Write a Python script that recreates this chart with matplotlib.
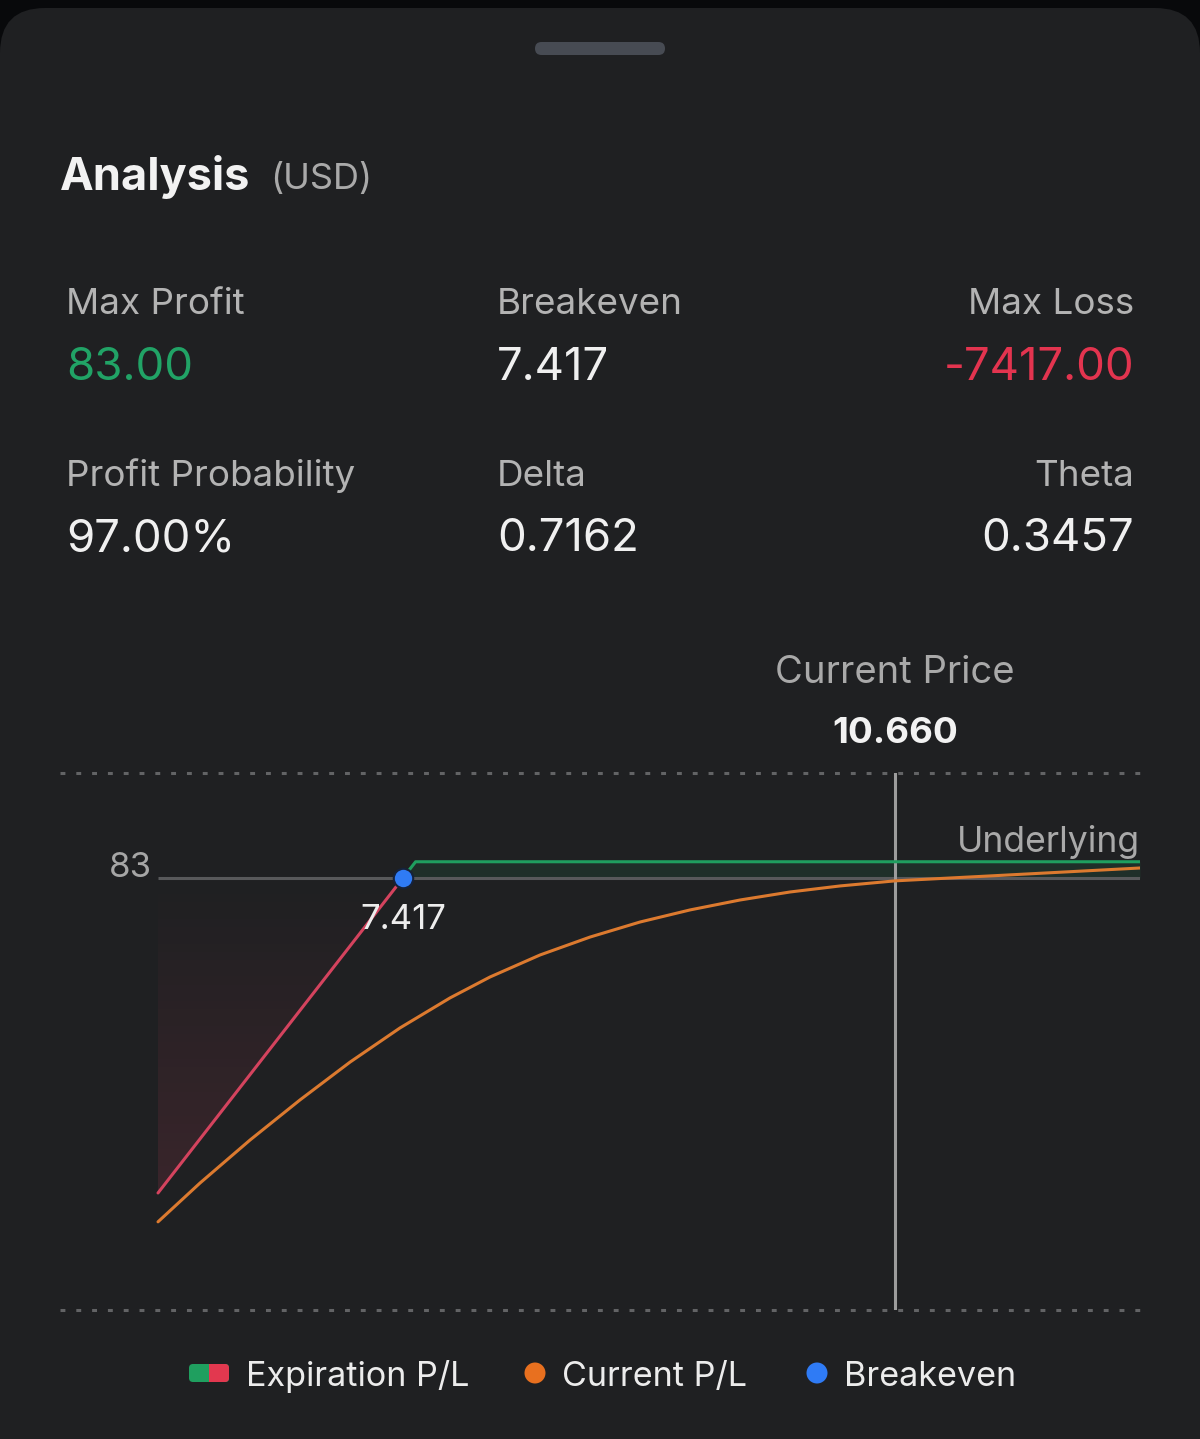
import numpy as np
import matplotlib
matplotlib.use("Agg")
import matplotlib.pyplot as plt
from matplotlib.patches import FancyBboxPatch, Circle, Polygon
from matplotlib.colors import LinearSegmentedColormap

plt.rcParams["font.family"] = ["Inter", "DejaVu Sans"]

# ---- summary figures ----
STATS = [
    # (label, value, value colour, column anchor, alignment)
    ("Max Profit", "83.00", "#21a366", 66, "left"),
    ("Breakeven", "7.417", "#f0f0f0", 497, "left"),
    ("Max Loss", "-7417.00", "#e3344f", 1134, "right"),
    ("Profit Probability", "97.00%", "#f0f0f0", 66, "left"),
    ("Delta", "0.7162", "#f0f0f0", 497, "left"),
    ("Theta", "0.3457", "#f0f0f0", 1134, "right"),
]

# ---- P/L data (underlying price vs P/L in USD) ----
STRIKE = 7.5
BREAKEVEN = 7.417
MAX_PROFIT = 83
CURRENT_PRICE = 10.660
PRICE_MIN, PRICE_MAX = 5.802, 12.275

exp_loss_price = [PRICE_MIN, BREAKEVEN]
exp_loss_pl = [-1615, 0]
exp_gain_price = [BREAKEVEN, STRIKE, PRICE_MAX]
exp_gain_pl = [0, MAX_PROFIT, MAX_PROFIT]

cur_price = [5.802, 6.079, 6.408, 6.738, 7.068, 7.397, 7.727, 7.990, 8.320,
             8.650, 8.979, 9.309, 9.639, 9.968, 10.298, 10.660, 11.352, 12.275]
cur_pl = [-1763, -1564, -1344, -1138, -944, -769, -615, -508, -395,
          -303, -226, -164, -113, -72, -41, -15, 13, 51]

BG = "#1f2022"
GREEN = "#1f9f5f"
RED = "#d4435e"
ORANGE = "#dc7a2f"
BLUE = "#2f7bf5"
GREY_TXT = "#b3b3b3"

fig = plt.figure(figsize=(12, 14.39), dpi=100, facecolor="#08090b")

# background / card layer in pixel coordinates
bg = fig.add_axes([0, 0, 1, 1], zorder=0)
bg.set_xlim(0, 1200)
bg.set_ylim(1439, 0)
bg.axis("off")
bg.add_patch(FancyBboxPatch((0, 8), 1200, 1500,
                            boxstyle="round,pad=0,rounding_size=45",
                            fc=BG, ec="none"))
bg.add_patch(FancyBboxPatch((535, 42), 130, 13,
                            boxstyle="round,pad=0,rounding_size=6.5",
                            fc="#474b53", ec="none"))

bg.text(60, 190, "Analysis", fontsize=32.5, fontweight="bold",
        color="#f2f2f2", va="baseline")
bg.text(270, 189, "(USD)", fontsize=26, color="#a9a9a9", va="baseline")

for i, (lab, val, col, x, ha) in enumerate(STATS):
    row = i // 3
    y_lab = 314 + row * 172
    y_val = 380 + row * 171
    bg.text(x, y_lab, lab, fontsize=26.5, color=GREY_TXT, ha=ha, va="baseline")
    bg.text(x, y_val, val, fontsize=32.8, color=col, ha=ha, va="baseline")

# legend
bg.add_patch(FancyBboxPatch((189, 1364), 40, 18,
                            boxstyle="round,pad=0,rounding_size=4",
                            fc=GREEN, ec="none"))
bg.add_patch(FancyBboxPatch((209, 1364), 20, 18,
                            boxstyle="round,pad=0,rounding_size=4",
                            fc="#e2384f", ec="none"))
bg.add_patch(plt.Rectangle((209, 1364), 8, 18, fc="#e2384f", ec="none"))
bg.add_patch(Circle((535, 1373), 10.5, fc="#e8701f", ec="none"))
bg.add_patch(Circle((817, 1373), 10.5, fc=BLUE, ec="none"))
for x, txt in [(246, "Expiration P/L"), (562, "Current P/L"), (844, "Breakeven")]:
    bg.text(x, 1386, txt, fontsize=24.6, color="#ececec", va="baseline")

# ---- chart ----
ax = fig.add_axes([60 / 1200, 1 - 1310 / 1439, 1080 / 1200, 537 / 1439], zorder=1)
ax.set_facecolor("none")
for s in ax.spines.values():
    s.set_visible(False)
ax.set_xticks([])
ax.set_yticks([])

x_left, x_right = 5.156, PRICE_MAX
y_bot, y_top = -2215, 538

# dotted frame lines (pattern sized so the last dot lands on the right edge)
for yv in (y_top, y_bot):
    ax.axhline(yv, color="#626365", lw=2.2, linestyle=(0, (1.6, 3.573)),
               clip_on=False, zorder=1)

# red gradient under loss segment
cmap = LinearSegmentedColormap.from_list(
    "lossfade", [(0.83, 0.26, 0.37, 0.0), (0.83, 0.26, 0.37, 0.15)])
grad = np.linspace(0, 1, 256).reshape(-1, 1)
im = ax.imshow(grad, cmap=cmap, aspect="auto", origin="upper",
               extent=[exp_loss_price[0], exp_loss_price[1], exp_loss_pl[0], 0],
               zorder=1)
clip = Polygon([[exp_loss_price[0], 0], [exp_loss_price[1], 0],
                [exp_loss_price[0], exp_loss_pl[0]]], transform=ax.transData)
im.set_clip_path(clip)

# green tint between zero and profit line
ax.fill_between(exp_gain_price, 0, exp_gain_pl, color=GREEN, alpha=0.12,
                lw=0, zorder=1)

ax.hlines(0, PRICE_MIN, PRICE_MAX, color="#58595b", lw=2.2, zorder=2)
ax.axvline(CURRENT_PRICE, color="#9c9c9c", lw=2.2, zorder=2)

ax.plot(cur_price, cur_pl, color=ORANGE, lw=2.2, zorder=3,
        solid_capstyle="round", solid_joinstyle="round")
ax.plot(exp_loss_price, exp_loss_pl, color=RED, lw=2.2, zorder=3,
        solid_capstyle="round")
ax.plot(exp_gain_price, exp_gain_pl, color=GREEN, lw=2.2, zorder=3)
ax.plot([BREAKEVEN], [0], "o", ms=14, mfc=BLUE, mec="#16223a", mew=1.5,
        zorder=5)

ax.set_xlim(x_left, x_right)
ax.set_ylim(y_bot, y_top)

ax.annotate(f"{BREAKEVEN:.3f}", (BREAKEVEN, 0), xytext=(0, -51),
            textcoords="offset pixels", ha="center", va="baseline",
            fontsize=25, color="#ededed", zorder=6)
ax.annotate(f"{MAX_PROFIT}", (PRICE_MIN, MAX_PROFIT), xytext=(-6, -15),
            textcoords="offset pixels", ha="right", va="baseline",
            fontsize=25, color="#a6a6a6", annotation_clip=False)
ax.annotate("Underlying", (PRICE_MAX, MAX_PROFIT), xytext=(0, 10),
            textcoords="offset pixels", ha="right", va="baseline",
            fontsize=25.6, color="#a9a9a9", annotation_clip=False)
ax.annotate("Current Price", (CURRENT_PRICE, y_top), xytext=(0, 90),
            textcoords="offset pixels", ha="center", va="baseline",
            fontsize=27.5, color="#a9a9a9", annotation_clip=False)
ax.annotate(f"{CURRENT_PRICE:.3f}", (CURRENT_PRICE, y_top), xytext=(0, 30),
            textcoords="offset pixels", ha="center", va="baseline",
            fontsize=26.5, fontweight="bold", color="#f2f2f2",
            annotation_clip=False)

fig.savefig("out.png", dpi=100, facecolor=fig.get_facecolor())
